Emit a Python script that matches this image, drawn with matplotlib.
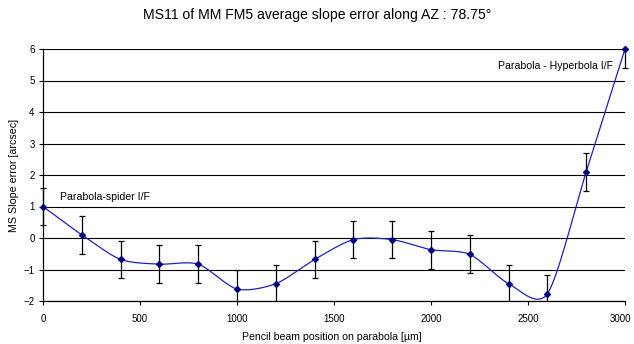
import numpy as np
import matplotlib.pyplot as plt
import matplotlib.transforms as mtransforms
from matplotlib.patches import Rectangle

plt.rcParams['font.family'] = ['Liberation Sans', 'DejaVu Sans']

# beam positions [um] and MS slope error [arcsec]
positions = [0, 200, 400, 600, 800, 1000, 1200, 1400, 1600, 1800, 2000, 2200, 2400, 2600, 2800, 3000]
slope_err = [1.0, 0.1, -0.68, -0.83, -0.83, -1.62, -1.45, -0.68, -0.05, -0.05, -0.37, -0.52, -1.45, -1.77, 2.1, 6.0]
err_bars = [0.6] * 16

x_ticks = [0, 500, 1000, 1500, 2000, 2500, 3000]
y_ticks = [-2, -1, 0, 1, 2, 3, 4, 5, 6]


def smooth(x, y, n=30, tension=0.8):
    # cardinal spline through the points, like a spreadsheet "smoothed line"
    x = np.asarray(x, float)
    y = np.asarray(y, float)
    px = np.concatenate([[2 * x[0] - x[1]], x, [2 * x[-1] - x[-2]]])
    py = np.concatenate([[2 * y[0] - y[1]], y, [2 * y[-1] - y[-2]]])
    t = np.linspace(0, 1, n)
    h00 = 2 * t ** 3 - 3 * t ** 2 + 1
    h10 = t ** 3 - 2 * t ** 2 + t
    h01 = -2 * t ** 3 + 3 * t ** 2
    h11 = t ** 3 - t ** 2
    xs, ys = [], []
    for i in range(1, len(px) - 2):
        for arr, out in ((px, xs), (py, ys)):
            m1 = tension * 0.5 * (arr[i + 1] - arr[i - 1])
            m2 = tension * 0.5 * (arr[i + 2] - arr[i])
            out.extend(h00 * arr[i] + h10 * m1 + h01 * arr[i + 1] + h11 * m2)
    return np.array(xs), np.array(ys)


fig = plt.figure(figsize=(6.34, 3.44), dpi=100)
ax = fig.add_axes([43 / 634, 1 - 301 / 344, 582 / 634, 252 / 344])

for yv in y_ticks:
    ax.axhline(yv, color='black', linewidth=0.8, zorder=1)

sx, sy = smooth(positions, slope_err)
ax.plot(sx, sy, color='#2020c0', linewidth=0.9, zorder=2)

# clip box: plot height, a bit wider than the plot so end bars show fully
clip_tr = mtransforms.blended_transform_factory(ax.transAxes, ax.transAxes)
clip_rect = Rectangle((-0.02, 0), 1.04, 1, transform=clip_tr, visible=False)
ax.add_patch(clip_rect)
eb = ax.errorbar(positions, slope_err, yerr=err_bars, fmt='none', ecolor='black',
                 elinewidth=0.9, capsize=2.5, capthick=0.9, zorder=3)
for art in list(eb.lines[1]) + list(eb.lines[2]):
    art.set_clip_path(clip_rect)
ax.plot(positions, slope_err, linestyle='none', marker='D', markersize=3,
        color='#000080', zorder=4, clip_on=False)

ax.set_xlim(0, 3000)
ax.set_ylim(-2, 6)
ax.set_xticks(x_ticks)
ax.set_yticks(y_ticks)
ax.tick_params(labelsize=7, length=3, width=0.8, colors='black', pad=6)
ax.tick_params(axis='y', pad=3)
for side in ('top', 'right'):
    ax.spines[side].set_visible(False)
for side in ('left', 'bottom'):
    ax.spines[side].set_linewidth(0.9)

# nudge the last x tick label left so it stays inside the figure
last = ax.get_xticklabels()[-1]
last.set_transform(last.get_transform() + mtransforms.ScaledTranslation(-5 / 100, 0, fig.dpi_scale_trans))

ax.text(90, 1.3, 'Parabola-spider I/F', fontsize=7.6, va='center', ha='left')
ax.text(2940, 5.45, 'Parabola - Hyperbola I/F', fontsize=7.6, va='center', ha='right')

fig.text(332 / 634, 1 - 337 / 344, 'Pencil beam position on parabola [µm]',
         fontsize=7.6, ha='center', va='center')
fig.text(14 / 634, 1 - 175 / 344, 'MS Slope error [arcsec]', fontsize=7.7,
         ha='center', va='center', rotation=90)
fig.text(317 / 634, 1 - 15 / 344, 'MS11 of MM FM5 average slope error along AZ : 78.75°',
         fontsize=10.1, ha='center', va='center')

fig.savefig('out.png', dpi=100)
